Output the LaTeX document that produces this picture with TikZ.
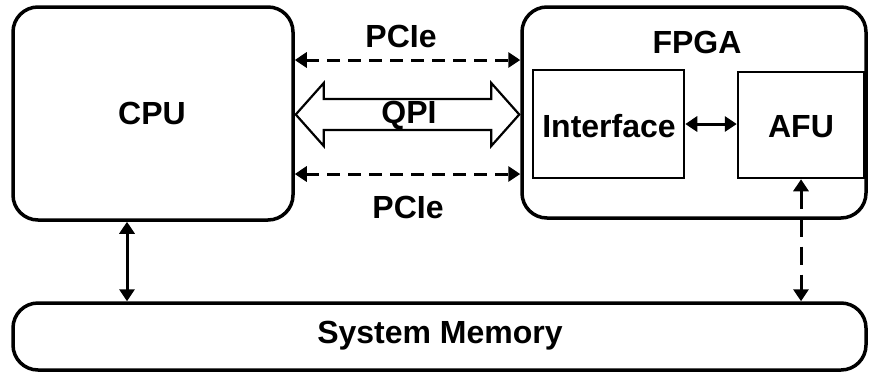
\documentclass[tikz,border=0pt]{standalone}
\usepackage{fontspec}
\setmainfont{Liberation Sans}
\usetikzlibrary{arrows.meta,calc}

\tikzset{
  unitbox/.style={draw, line width=3.5pt, rounded corners=25pt, inner sep=0pt},
  innerbox/.style={draw, line width=2.5pt, inner sep=0pt},
  lbl/.style={font=\fontsize{32}{38}\selectfont\bfseries, inner sep=0pt},
  link/.style={line width=3pt, {Triangle[length=12pt,width=15pt]}-{Triangle[length=12pt,width=15pt]}},
  buslink/.style={link, dash pattern=on 13pt off 8pt},
  memlink/.style={link, dash pattern=on 18pt off 10pt},
  fatarrow/.style={draw, line width=2.2pt, fill=white, line join=miter}
}

\begin{document}
\begin{tikzpicture}[x=1pt, y=-1pt]
  \useasboundingbox (0,0) rectangle (870,373);

  % main blocks
  \node[unitbox, minimum width=280pt, minimum height=213pt] (cpu) at (153,113.5) {};
  \node[lbl] (cpulbl) at (152,113.5) {CPU};
  \node[unitbox, minimum width=344pt, minimum height=211pt] (fpga) at (694,112.5) {};
  \node[lbl] (fpgalbl) at (697,42) {FPGA};
  \node[innerbox, minimum width=151pt, minimum height=108pt] (iface) at (608.5,124) {};
  \node[lbl] (ifacelbl) at (609,126) {Interface};
  \node[innerbox, minimum width=126pt, minimum height=106pt] (afu) at (801,125) {};
  \node[lbl] (afulbl) at (801,127) {AFU};
  \node[unitbox, minimum width=853pt, minimum height=67pt] (mem) at (439.5,336.5) {};
  \node[lbl] (memlbl) at (440,336) {System Memory};

  % helper rows and columns
  \coordinate (pcieA) at (0,60);
  \coordinate (pcieB) at (0,174);
  \coordinate (qpi) at (0,114.5);
  \coordinate (cpucol) at (127,0);

  % PCIe links
  \draw[buslink] (cpu.east |- pcieA) -- (fpga.west |- pcieA);
  \draw[buslink] (cpu.east |- pcieB) -- (fpga.west |- pcieB);
  \node[lbl] (pcietop) at (401,36) {PCIe};
  \node[lbl] (pciebot) at (408,207) {PCIe};

  % QPI wide double arrow
  \coordinate (qa) at ($(cpu.east |- qpi)+(1,0)$);
  \coordinate (qb) at ($(fpga.west |- qpi)+(-1,0)$);
  \draw[fatarrow] (qa) -- ++(28,-31.5) -- ++(0,16) -- ($(qb)+(-28,-15.5)$)
     -- ++(0,-16) -- (qb) -- ++(-28,31.5) -- ++(0,-16) -- ($(qa)+(28,15.5)$)
     -- ++(0,16) -- cycle;
  \node[lbl] (qpilbl) at (409,115) {QPI};

  % on-chip link
  \draw[link] (iface.east) -- (iface.east -| afu.west);

  % memory links
  \draw[link] (cpu.south -| cpucol) -- (mem.north -| cpucol);
  \draw[memlink] (afu.south) -- (afu.south |- mem.north);
\end{tikzpicture}
\end{document}
